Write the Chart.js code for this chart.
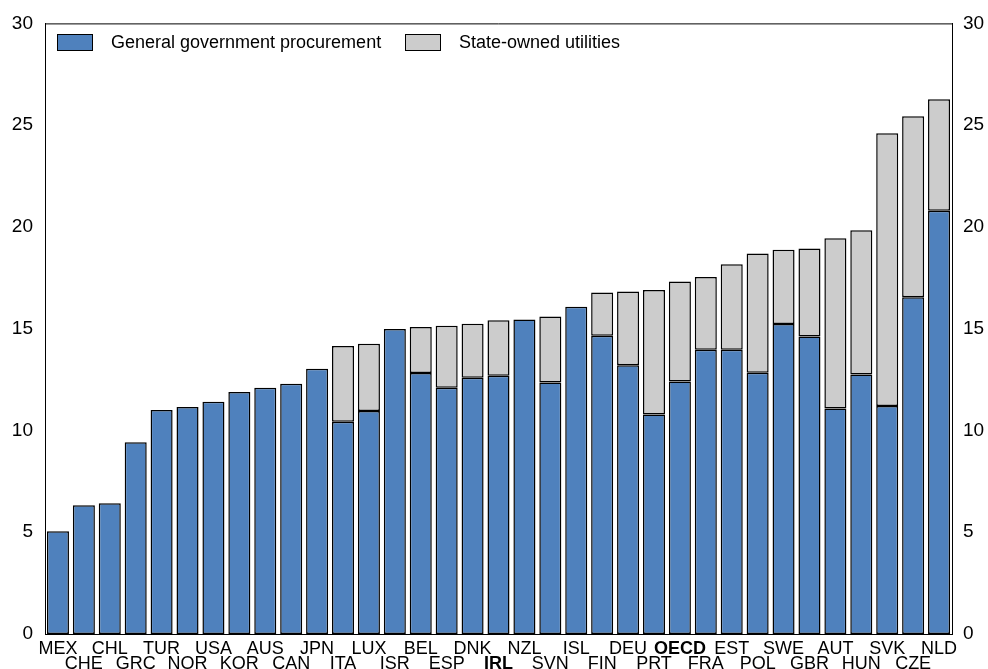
<!DOCTYPE html>
<html>
<head>
<meta charset="utf-8">
<script src="https://cdn.jsdelivr.net/npm/chart.js@4/dist/chart.umd.min.js"></script>
<style>
  html, body { margin: 0; padding: 0; background: #fff; }
  #wrap { width: 988px; height: 669px; }
</style>
</head>
<body>
<div id="wrap"><canvas id="myChart" width="988" height="669"></canvas></div>
<script>
// data
const countries = ['MEX','CHE','CHL','GRC','TUR','NOR','USA','KOR','AUS','CAN','JPN','ITA','LUX','ISR','BEL','ESP','DNK','IRL','NZL','SVN','ISL','FIN','DEU','PRT','OECD','FRA','EST','POL','SWE','GBR','AUT','HUN','SVK','CZE','NLD'];
const procurement = [5.05,6.32,6.42,9.42,11.01,11.15,11.41,11.89,12.10,12.30,13.03,10.43,10.96,14.98,12.82,12.10,12.59,12.69,15.45,12.36,16.08,14.65,13.20,10.79,12.41,13.97,13.97,12.84,15.23,14.62,11.08,12.75,11.20,16.55,20.79];
const utilities = [null,null,null,null,null,null,null,null,null,null,null,3.72,3.30,null,2.26,3.04,2.65,2.72,null,3.24,null,2.13,3.63,6.11,4.91,3.57,4.20,5.85,3.65,4.32,8.37,7.09,13.40,8.89,5.48];
const yTicks = [0,5,10,15,20,25,30];
const boldLabels = ['OECD','IRL'];

const FONT = "'Liberation Sans', Arial, sans-serif";

// legend drawn inside the plot box + top border
const boxPlugin = {
  id: 'boxPlugin',
  afterDraw(chart) {
    const c = chart.ctx, a = chart.chartArea;
    c.save();
    c.strokeStyle = '#000';
    c.lineWidth = 1;
    c.beginPath();
    c.moveTo(a.left, a.top + 0.5);
    c.lineTo(a.right, a.top + 0.5);
    c.stroke();

    const items = [
      {x: 57, text: 'General government procurement', ds: chart.data.datasets[0]},
      {x: 405, text: 'State-owned utilities', ds: chart.data.datasets[1]}
    ];
    c.font = '18px ' + FONT;
    c.textBaseline = 'middle';
    items.forEach(it => {
      c.fillStyle = it.ds.backgroundColor;
      c.fillRect(it.x, 34, 36, 17);
      c.strokeStyle = '#000';
      c.strokeRect(it.x + 0.5, 34.5, 35, 16);
      c.fillStyle = '#000';
      c.fillText(it.text, it.x + 54, 43);
    });
    c.restore();
  }
};

const ctx = document.getElementById('myChart');

new Chart(ctx, {
  type: 'bar',
  data: {
    labels: countries,
    datasets: [{
      label: 'General government procurement',
      data: procurement,
      backgroundColor: '#4F81BD',
      borderColor: '#000',
      borderWidth: 1.5,
      borderSkipped: false
    }, {
      label: 'State-owned utilities',
      data: utilities,
      backgroundColor: '#CCCCCC',
      borderColor: '#000',
      borderWidth: 1.5,
      borderSkipped: false
    }]
  },
  options: {
    responsive: false,
    animation: false,
    devicePixelRatio: 1,
    layout: { padding: { left: 12, right: 0, top: 14, bottom: -11 } },
    datasets: { bar: { categoryPercentage: 1, barPercentage: 0.85 } },
    plugins: {
      legend: { display: false },
      tooltip: { enabled: false }
    },
    scales: {
      x: {
        stacked: true,
        grid: { display: false, drawTicks: false },
        border: { display: true, color: '#000', width: 1 },
        ticks: {
          autoSkip: false,
          maxRotation: 0,
          padding: 8,
          color: '#000',
          callback: function(v, i) {
            const lab = countries[i];
            return i % 2 === 0 ? [lab, ''] : ['', lab];
          },
          font: (c) => ({
            family: FONT,
            size: 18,
            lineHeight: '15px',
            weight: boldLabels.includes(countries[c.index]) ? 'bold' : 'normal'
          })
        }
      },
      y: {
        stacked: true,
        min: 0,
        max: 30,
        grid: { display: false, drawTicks: false },
        border: { display: true, color: '#000', width: 1 },
        afterBuildTicks: (axis) => { axis.ticks = yTicks.map(v => ({value: v})); },
        afterFit: (axis) => { axis.width = 33; },
        ticks: { padding: 12, color: '#000', font: { family: FONT, size: 19 } }
      },
      y2: {
        position: 'right',
        min: 0,
        max: 30,
        grid: { display: false, drawTicks: false },
        border: { display: true, color: '#000', width: 1 },
        afterBuildTicks: (axis) => { axis.ticks = yTicks.map(v => ({value: v})); },
        afterFit: (axis) => { axis.width = 36; },
        ticks: { padding: 11, color: '#000', font: { family: FONT, size: 19 } }
      }
    }
  },
  plugins: [boxPlugin]
});
</script>
</body>
</html>
